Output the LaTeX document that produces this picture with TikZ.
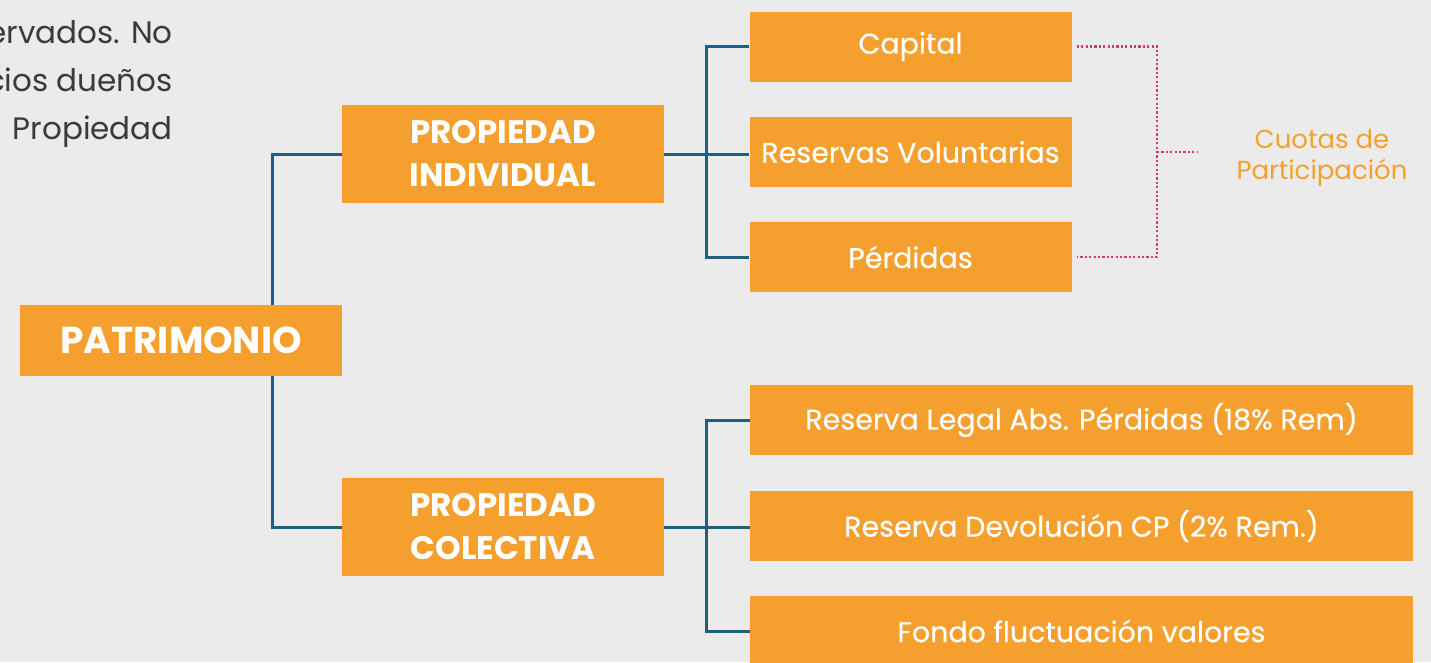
\documentclass[tikz,border=0pt]{standalone}
\usepackage{fontspec}
\setmainfont{Poppins}
\newfontfamily\medfont{Poppins}[FakeBold=0.5]
\usetikzlibrary{calc}
\definecolor{bgc}{HTML}{EBEBEB}
\definecolor{orng}{HTML}{F5A02E}
\definecolor{bluel}{HTML}{1D5E85}
\definecolor{dotc}{HTML}{D63A6A}
\definecolor{txtg}{HTML}{3A3A3A}
\pgfdeclarelayer{bg}
\pgfsetlayers{bg,main}
\tikzset{
  box/.style={fill=orng, text=white, inner sep=0pt, align=center},
  smallbox/.style={box, minimum width=322, minimum height=70, font=\medfont\fontsize{28.5}{32}\selectfont},
  widebox/.style={box, minimum width=663, minimum height=70, font=\medfont\fontsize{28.5}{32}\selectfont},
  bigbox/.style={box, minimum width=322, minimum height=98, font=\bfseries\fontsize{32.5}{43}\selectfont},
  conn/.style={draw=bluel, line width=3pt},
  dotl/.style={draw=dotc, line width=2.2pt, dash pattern=on 2.2pt off 2.2pt},
  sidetext/.style={text=txtg, anchor=base east, inner sep=0pt, font=\fontsize{31}{36}\selectfont}
}
\begin{document}
\begin{tikzpicture}[x=1pt,y=-1pt]
\begin{pgfonlayer}{bg}
\fill[bgc] (0,0) rectangle (1431,662);
\end{pgfonlayer}
\useasboundingbox (0,0) rectangle (1431,662);

% side text
\node[sidetext] (t1) at (173,43) {ervados. No};
\node[sidetext] (t2) at (173,91) {cios dueños};
\node[sidetext] (t3) at (173,139) {Propiedad};

% main boxes
\node[box, minimum width=322, minimum height=71, font=\bfseries\fontsize{37.5}{40}\selectfont] (pat) at (181,340.5) {PATRIMONIO};
\node[bigbox] (pi) at (503,154) {PROPIEDAD\\INDIVIDUAL};
\node[bigbox] (pc) at (503,527) {PROPIEDAD\\COLECTIVA};

\node[smallbox] (cap) at (910.5,46.5) {Capital};
\node[smallbox] (rv) at (910.5,152) {Reservas Voluntarias};
\node[smallbox] (per) at (910.5,257) {Pérdidas};

\node[widebox] (rl) at (1081.5,420) {Reserva Legal Abs. Pérdidas (18\% Rem)};
\node[widebox] (rd) at (1081.5,526) {Reserva Devolución CP (2\% Rem.)};
\node[widebox] (ff) at (1081.5,631) {Fondo fluctuación valores};

\node[text=orng, align=center, inner sep=0pt, font=\fontsize{26}{31}\selectfont] (cuo) at (1322,158) {Cuotas de\\Participación};

% connectors
\coordinate (j1) at (272,340);
\coordinate (j2) at (706,154);
\coordinate (j3) at (706,527);
\begin{pgfonlayer}{bg}
\draw[conn] (pi.west) -| (j1) |- (pc.west);
\draw[conn] (pi.east) -- (pi.east -| rv.west);
\draw[conn] (cap.west) -| (j2) |- (per.west);
\draw[conn] (pc.east) -- (pc.east -| rd.west);
\draw[conn] (rl.west) -| (j3) |- (ff.west);
\end{pgfonlayer}

% dotted bracket
\coordinate (d1) at (1157,152);
\coordinate (d2) at (1197,152);
\draw[dotl] ([xshift=5]cap.east) -| (d1) |- ([xshift=5]per.east);
\draw[dotl] (d1) -- (d2);
\end{tikzpicture}
\end{document}
